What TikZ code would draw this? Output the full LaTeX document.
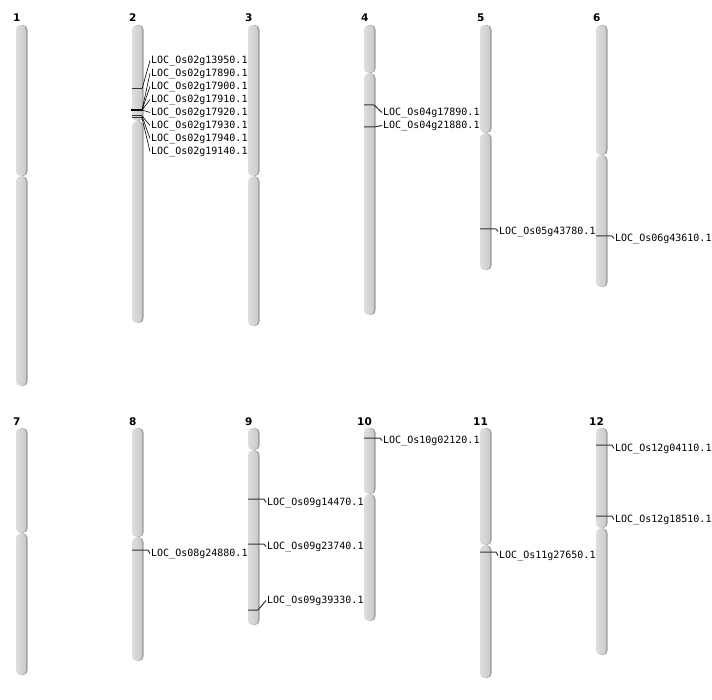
\documentclass[tikz,border=0pt]{standalone}
\usepackage{fontspec}
\newfontfamily\locfont{DejaVu Sans Mono}
\newfontfamily\numfont{DejaVu Sans}
\newcommand{\chrom}[5]{%
   \coordinate (#1) at (#2,#3);
   \fill[gray!75,rounded corners=4.5pt] (#2+1.5,#3) rectangle (#2+11.5,#4);
   \fill[gray!75,rounded corners=4.5pt] (#2+1.5,#4+0.4) rectangle (#2+11.5,#5);
   \shade[left color=gray!26,right color=gray!42,rounded corners=4.5pt]
    (#2,#3) rectangle (#2+10,#4);
   \shade[left color=gray!26,right color=gray!42,rounded corners=4.5pt]
    (#2,#4+0.4) rectangle (#2+10,#5);
}
\tikzset{
  chnum/.style={anchor=base west,inner sep=0pt,font=\numfont\bfseries\fontsize{10.5}{12}\selectfont},
  loc/.style={anchor=west,inner sep=1pt,yshift=-1.5pt,font=\locfont\fontsize{10}{12}\selectfont},
  mk/.style={draw=black!80,line width=1pt},
  mkb/.style={draw=black,line width=1.8pt},
  lnk/.style={draw=black,line width=0.6pt}
}
\begin{document}
\begin{tikzpicture}[x=1pt,y=-1pt]
   \useasboundingbox (0,0) rectangle (712,700);
   \chrom{c1}{16}{25}{176}{386}
   \chrom{c2}{132}{25}{121}{323}
   \chrom{c3}{248}{25}{176}{326}
   \chrom{c4}{364}{25}{73}{315}
   \chrom{c5}{480}{25}{133}{270}
   \chrom{c6}{596}{25}{155}{287}
   \chrom{c7}{16}{428}{533}{675}
   \chrom{c8}{132}{428}{537}{661}
   \chrom{c9}{248}{428}{450}{625}
   \chrom{c10}{364}{428}{494}{621}
   \chrom{c11}{480}{428}{545}{678}
   \chrom{c12}{596}{428}{528}{655}
   \node[chnum] (n1)  at ( 13,22) {1};
   \node[chnum] (n2)  at (129,22) {2};
   \node[chnum] (n3)  at (245,22) {3};
   \node[chnum] (n4)  at (361,22) {4};
   \node[chnum] (n5)  at (477,22) {5};
   \node[chnum] (n6)  at (593,22) {6};
   \node[chnum] (n7)  at ( 13,425) {7};
   \node[chnum] (n8)  at (129,425) {8};
   \node[chnum] (n9)  at (245,425) {9};
   \node[chnum] (n10) at (357,425) {10};
   \node[chnum] (n11) at (473,425) {11};
   \node[chnum] (n12) at (589,425) {12};
   \node[loc] (l2a) at (150, 59) {LOC\_Os02g13950.1};
   \node[loc] (l2b) at (150, 72) {LOC\_Os02g17890.1};
   \node[loc] (l2c) at (150, 85) {LOC\_Os02g17900.1};
   \node[loc] (l2d) at (150, 98) {LOC\_Os02g17910.1};
   \node[loc] (l2e) at (150,111) {LOC\_Os02g17920.1};
   \node[loc] (l2f) at (150,124) {LOC\_Os02g17930.1};
   \node[loc] (l2g) at (150,137) {LOC\_Os02g17940.1};
   \node[loc] (l2h) at (150,150) {LOC\_Os02g19140.1};
   \node[loc] (l4a) at (382,111) {LOC\_Os04g17890.1};
   \node[loc] (l4b) at (382,124) {LOC\_Os04g21880.1};
   \node[loc] (l5a) at (498,230) {LOC\_Os05g43780.1};
   \node[loc] (l6a) at (614,237) {LOC\_Os06g43610.1};
   \node[loc] (l8a) at (150,552) {LOC\_Os08g24880.1};
   \node[loc] (l9a) at (266,501) {LOC\_Os09g14470.1};
   \node[loc] (l9b) at (266,545) {LOC\_Os09g23740.1};
   \node[loc] (l9c) at (266,599) {LOC\_Os09g39330.1};
   \node[loc] (l10a) at (382,439) {LOC\_Os10g02120.1};
   \node[loc] (l11a) at (498,554) {LOC\_Os11g27650.1};
   \node[loc] (l12a) at (614,447) {LOC\_Os12g04110.1};
   \node[loc] (l12b) at (614,518) {LOC\_Os12g18510.1};
   \coordinate (m2a) at (132, 89);
   \coordinate (m2b) at (131,110);
   \coordinate (m2c) at (132,116);
   \coordinate (m2d) at (132,118);
   \coordinate (k2a) at (142, 89);
   \coordinate (k2b) at (142,110);
   \coordinate (k2c) at (142,116);
   \coordinate (k2d) at (142,118);
   \coordinate (m4a) at (364,105);
   \coordinate (m4b) at (364,127);
   \coordinate (m5a) at (480,229);
   \coordinate (m6a) at (596,236);
   \coordinate (m8a) at (132,550);
   \coordinate (m9a) at (248,499);
   \coordinate (m9b) at (248,544);
   \coordinate (m9c) at (248,610);
   \coordinate (m10a) at (364,438);
   \coordinate (m11a) at (480,552);
   \coordinate (m12a) at (596,445);
   \coordinate (m12b) at (596,516);
   \draw[mk]  (m2a) -- (k2a);
   \draw[mk]  (m2c) -- (k2c);
   \draw[mk]  (m2d) -- (k2d);
   \draw[mkb] (m2b) -- (k2b);
   \draw[lnk] (k2a) -- (l2a.west);
   \draw[lnk] (k2b) -- (l2b.west);
   \draw[lnk] (k2b) -- (l2c.west);
   \draw[lnk] (k2b) -- (l2d.west);
   \draw[lnk] (k2b) -- (l2e.west);
   \draw[lnk] (k2c) -- (l2f.west);
   \draw[lnk] (k2c) -- (l2g.west);
   \draw[lnk] (k2d) -- (l2h.west);
   \draw[mk] (m4a) -- ++(10,0) -- (l4a.west);
   \draw[mk] (m4b) -- ++(10,0) -- (l4b.west);
   \draw[mk] (m5a) -- ++(16,0) -- (l5a.west);
   \draw[mk] (m6a) -- ++(16,0) -- (l6a.west);
   \draw[mk] (m8a) -- ++(16,0) -- (l8a.west);
   \draw[mk] (m9a) -- ++(16,0) -- (l9a.west);
   \draw[mk] (m9b) -- ++(16,0) -- (l9b.west);
   \draw[mk] (m9c) -- ++(10,0) -- (l9c.west);
   \draw[mk] (m10a) -- ++(16,0) -- (l10a.west);
   \draw[mk] (m11a) -- ++(16,0) -- (l11a.west);
   \draw[mk] (m12a) -- ++(16,0) -- (l12a.west);
   \draw[mk] (m12b) -- ++(16,0) -- (l12b.west);
\end{tikzpicture}
\end{document}
